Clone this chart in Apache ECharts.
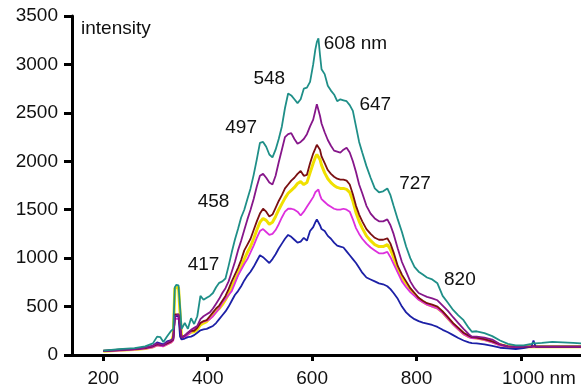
<!DOCTYPE html>
<html><head><meta charset="utf-8">
<script src="https://cdn.jsdelivr.net/npm/echarts@6/dist/echarts.min.js"></script>
<style>html,body{margin:0;padding:0;background:#fff}#c{width:581px;height:392px}</style>
</head><body><div id="c"></div>
<script>
// wavelength grid (nm)
const wavelengths = [200,230,260,280,295,303,309,315,322,330,
334,337,340,344,347,350,356,362,368,374,
380,386,392,398,404,410,416,422,428,434,
440,446,452,458,464,470,476,482,488,494,
500,506,512,518,524,530,536,542,548,554,
560,566,572,578,584,590,596,602,606,609,
612,615,618,624,630,636,642,648,654,660,
666,672,678,684,690,696,704,712,720,728,
736,744,750,756,764,772,780,788,796,804,
812,820,830,840,850,860,870,880,890,900,
906,915,930,945,960,975,990,1005,1020,1024,
1028,1040,1060,1080,1100,1115];

const tealSeries = [45,60,70,90,120,190,185,135,190,250,
270,700,725,720,700,270,330,270,380,320,
400,610,570,590,610,640,700,745,760,790,
920,1060,1190,1300,1420,1500,1610,1720,1860,2020,
2190,2200,2150,2070,2040,2120,2230,2360,2550,2700,
2680,2640,2600,2640,2750,2760,2820,3000,3150,3230,
3270,3100,2950,2900,2780,2730,2690,2620,2640,2630,
2620,2580,2520,2360,2200,2090,1950,1830,1720,1680,
1690,1720,1650,1540,1400,1270,1120,1000,910,860,
830,800,780,740,610,540,465,410,360,280,
240,245,225,195,150,115,100,100,115,125,
120,125,135,130,125,120];

const purpleSeries = [40,50,60,75,95,120,110,100,130,150,
170,400,420,420,400,180,200,230,260,280,
300,370,400,420,440,480,530,580,640,690,
760,860,960,1080,1180,1290,1400,1500,1610,1740,
1850,1870,1830,1780,1760,1850,1990,2120,2250,2280,
2290,2230,2180,2200,2230,2280,2360,2430,2520,2590,
2580,2470,2390,2300,2220,2160,2110,2100,2090,2120,
2140,2090,2000,1890,1760,1670,1540,1460,1410,1380,
1380,1400,1340,1250,1100,960,860,760,690,640,
620,600,585,565,510,455,390,330,270,215,
190,190,180,160,110,90,86,86,86,90,
88,86,86,86,86,86];

const maroonSeries = [40,50,60,70,90,110,105,100,120,140,
160,420,430,420,400,180,200,230,250,250,
280,330,350,360,400,440,480,510,560,610,
680,760,830,900,980,1080,1140,1200,1290,1380,
1460,1510,1480,1430,1450,1520,1590,1650,1720,1760,
1800,1830,1870,1900,1850,1860,1980,2080,2130,2170,
2180,2120,2050,1980,1910,1870,1840,1820,1810,1810,
1800,1760,1660,1540,1450,1380,1300,1250,1210,1190,
1190,1205,1150,1060,920,830,760,690,640,590,
560,535,520,500,450,390,330,280,230,200,
185,180,165,140,110,90,86,86,86,90,
88,86,86,86,86,86];

const yellowSeries = [38,48,58,68,85,105,100,95,115,135,
200,690,710,700,680,170,190,215,235,240,
265,310,330,345,380,410,450,480,520,570,
630,700,770,840,910,990,1060,1120,1200,1290,
1370,1410,1390,1350,1370,1430,1500,1560,1620,1670,
1700,1730,1770,1790,1760,1780,1880,1980,2040,2070,
2080,2020,1960,1880,1820,1780,1750,1730,1720,1720,
1710,1680,1590,1470,1380,1310,1230,1180,1140,1120,
1120,1140,1090,1010,880,800,740,680,630,580,
550,525,505,485,440,380,320,270,220,190,
180,175,160,135,105,88,84,84,84,88,
86,84,84,84,84,84];

const magentaSeries = [40,45,55,65,80,100,95,90,110,130,
150,370,380,380,360,160,180,210,240,260,
290,330,345,355,370,400,440,480,540,580,
620,660,740,820,880,940,990,1060,1130,1210,
1280,1300,1270,1240,1250,1290,1350,1420,1480,1510,
1510,1500,1480,1440,1480,1530,1580,1630,1680,1700,
1710,1650,1610,1580,1550,1530,1510,1500,1500,1510,
1500,1480,1400,1310,1250,1200,1150,1110,1080,1050,
1050,1065,1010,940,850,760,700,650,610,570,
545,520,500,480,435,375,315,265,215,185,
175,172,155,130,100,85,82,82,82,86,
84,82,82,82,82,82];

const blueSeries = [45,55,65,75,95,130,120,110,140,155,
170,400,413,410,190,160,170,185,190,205,
230,255,265,270,285,300,330,370,410,450,
500,560,620,660,710,770,820,860,910,970,
1030,1010,980,950,990,1040,1100,1150,1200,1240,
1220,1190,1160,1170,1210,1180,1280,1320,1370,1400,
1410,1340,1300,1280,1230,1200,1160,1130,1120,1110,
1070,1030,990,950,900,850,800,780,760,740,
730,710,680,640,580,500,440,400,370,350,
335,325,310,290,260,235,205,175,150,130,
122,120,110,95,75,68,62,70,86,150,
88,86,86,86,86,86];

const xTicks = [200,400,600,800,1000];
const yTicks = [0,500,1000,1500,2000,2500,3000,3500];

// peak annotations: [text, wavelength anchor, intensity anchor]
const peakLabels = [
  ['608 nm', 683, 3211],
  ['548', 518, 2849],
  ['647', 721, 2586],
  ['497', 464, 2349],
  ['458', 411, 1580],
  ['417', 392, 929],
  ['727', 797, 1770],
  ['820', 883, 779]
];

const FONT = '"Liberation Sans", Arial, sans-serif';
const pairs = arr => wavelengths.map((w, i) => [w, arr[i]]);
const mkLine = (name, arr, color, width, z) => ({
  name, type: 'line', data: pairs(arr), symbol: 'none', z: z,
  lineStyle: { color, width }, itemStyle: { color }, silent: true
});

const chart = echarts.init(document.getElementById('c'), null, { renderer: 'canvas' });
chart.setOption({
  animation: false,
  backgroundColor: '#fff',
  grid: { left: 72, right: 0, top: 16, bottom: 37, containLabel: false },
  xAxis: {
    type: 'value', min: 140, max: 1115,
    axisLine: { show: true, onZero: false, lineStyle: { color: '#000', width: 3 } },
    axisTick: { show: true, customValues: xTicks, length: 6, lineStyle: { color: '#000', width: 3 } },
    axisLabel: {
      customValues: xTicks, margin: 14, color: '#111', fontSize: 19, fontFamily: FONT,
      formatter: v => v === 1000 ? '{u|1000 nm}' : String(v),
      rich: { u: { fontSize: 19, fontFamily: FONT, color: '#111', padding: [0, 0, 0, 36] } }
    },
    splitLine: { show: false }
  },
  yAxis: {
    type: 'value', min: 0, max: 3500, interval: 500,
    name: 'intensity', nameLocation: 'end', nameGap: -13,
    nameTextStyle: { color: '#111', fontSize: 19, fontFamily: FONT, align: 'left', verticalAlign: 'middle', padding: [0, 0, 0, 9] },
    axisLine: { show: true, lineStyle: { color: '#000', width: 3 } },
    axisTick: { show: true, length: 8, lineStyle: { color: '#000', width: 3 } },
    axisLabel: { margin: 14, color: '#111', fontSize: 19, fontFamily: FONT,
      formatter: v => yTicks.includes(v) ? String(v) : '' },
    splitLine: { show: false }
  },
  series: [
    mkLine('yellow', yellowSeries, '#f0e000', 3, 2),
    mkLine('magenta', magentaSeries, '#dd30dd', 1.8, 3),
    mkLine('blue', blueSeries, '#1c20a6', 1.8, 3),
    mkLine('maroon', maroonSeries, '#7a1012', 1.8, 3),
    mkLine('purple', purpleSeries, '#86168a', 1.8, 3),
    mkLine('teal', tealSeries, '#1f8f88', 1.8, 3),
    {
      type: 'scatter', symbolSize: 1, itemStyle: { color: 'rgba(0,0,0,0)' }, silent: true, z: 5,
      data: peakLabels.map(p => ({ value: [p[1], p[2]], name: p[0] })),
      label: { show: true, position: 'inside', formatter: p => p.name, color: '#111', opacity: 1,
        textBorderWidth: 0, textBorderColor: 'transparent', fontSize: 19, fontFamily: FONT }
    }
  ]
});
</script>
</body></html>
